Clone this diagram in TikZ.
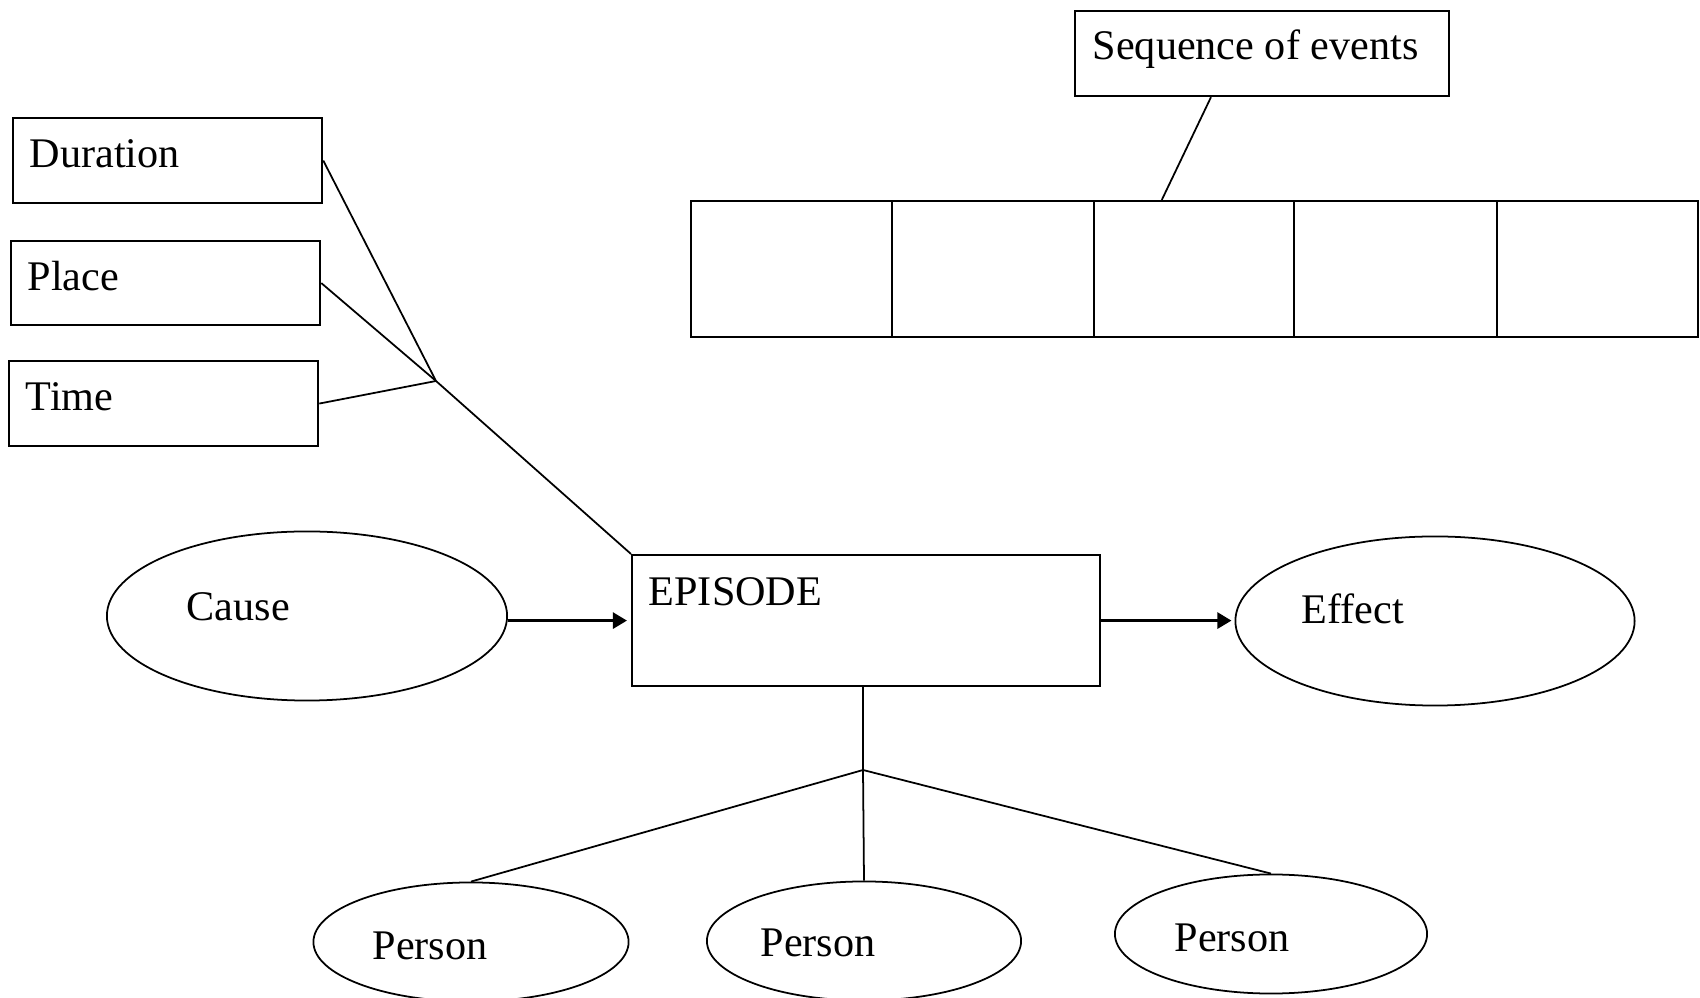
\documentclass[tikz,border=0pt]{standalone}
\usepackage{fontspec}
\setmainfont{Liberation Serif}
\usetikzlibrary{shapes.geometric,arrows.meta,calc}
\begin{document}
\begin{tikzpicture}[x=0.01cm,y=-0.01cm,
  box/.style={draw,line width=0.6pt,rectangle,inner sep=0pt,anchor=north west},
  oval/.style={draw,line width=0.5pt,ellipse,inner sep=0pt},
  lbl/.style={anchor=base west,inner sep=0pt,font=\fontsize{12}{14}\selectfont},
  link/.style={line width=0.5pt},
  flow/.style={line width=0.9pt,-{Triangle[length=4pt,width=4.5pt]}}]
\useasboundingbox (0,0) rectangle (1700,998);

% attribute boxes on the left
\node[box,minimum width=3.09cm,minimum height=0.85cm] (dur) at (12,117) {};
\node[box,minimum width=3.09cm,minimum height=0.84cm] (plc) at (10,240) {};
\node[box,minimum width=3.09cm,minimum height=0.85cm] (tim) at (8,360) {};
\node[lbl] (durt) at (29,168) {Duration};
\node[lbl] (plct) at (27,291) {Place};
\node[lbl] (timt) at (25,411) {Time};

% sequence of events and its strip of cells
\node[box,minimum width=3.74cm,minimum height=0.85cm] (seq) at (1074,10) {};
\node[lbl] (seqt) at (1092,60) {Sequence of events};
\node[box,minimum width=2.01cm,minimum height=1.36cm] (c1) at (690,200) {};
\node[box,minimum width=2.02cm,minimum height=1.36cm] (c2) at (891,200) {};
\node[box,minimum width=2.00cm,minimum height=1.36cm] (c3) at (1093,200) {};
\node[box,minimum width=2.03cm,minimum height=1.36cm] (c4) at (1293,200) {};
\node[box,minimum width=2.01cm,minimum height=1.36cm] (c5) at (1496,200) {};

% central episode
\node[box,minimum width=4.68cm,minimum height=1.31cm] (epi) at (631,554) {};
\node[lbl] (epit) at (648,606) {EPISODE};

% cause and effect
\node[oval,minimum width=4.00cm,minimum height=1.69cm] (cause) at (307,616) {};
\node[lbl] (causet) at (186,621) {Cause};
\node[oval,minimum width=3.99cm,minimum height=1.69cm] (eff) at (1435,621) {};
\node[lbl] (efft) at (1301,624) {Effect};

% persons
\node[oval,minimum width=3.15cm,minimum height=1.19cm] (p1) at (471,942) {};
\node[oval,minimum width=3.14cm,minimum height=1.19cm] (p2) at (864,941) {};
\node[oval,minimum width=3.12cm,minimum height=1.19cm] (p3) at (1271,934) {};
\node[lbl] (p1t) at (372,960) {Person};
\node[lbl] (p2t) at (760,957) {Person};
\node[lbl] (p3t) at (1174,952) {Person};

% junction points
\coordinate (j) at (436,381);
\coordinate (k) at (863,770);

% connectors
\draw[link] (dur.east) -- (j);
\draw[link] (plc.east) -- (j);
\draw[link] (tim.east) -- (j);
\draw[link] (j) -- (epi.north west);
\draw[link] ($(seq.south west)!0.364!(seq.south east)$) -- ($(c3.north west)!0.34!(c3.north east)$);
\draw[flow] (cause.east |- epi.west) -- ($(epi.west)+(-4,0)$);
\draw[flow] (epi.east) -- ($(eff.west |- epi.east)+(-3,0)$);
\draw[link] (epi.south -| k) -- (k);
\draw[link] (k) -- (p1.north);
\draw[link] (k) -- (p2.north);
\draw[link] (k) -- (p3.north);
\end{tikzpicture}
\end{document}
